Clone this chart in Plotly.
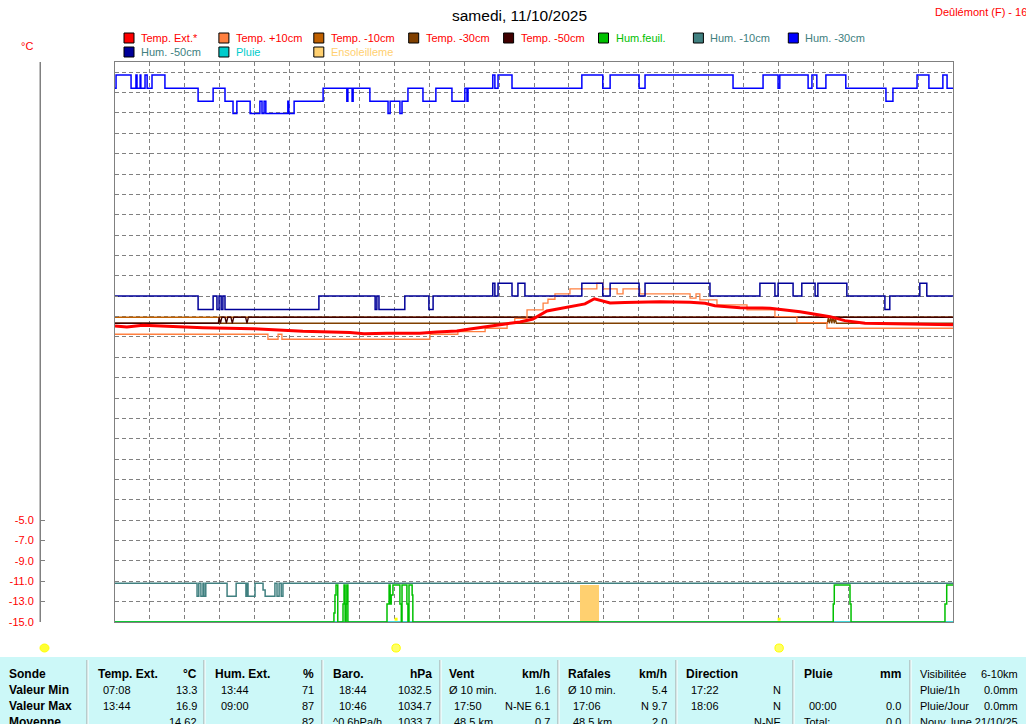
import plotly.graph_objects as go

# ---------------- data ----------------
# time in hours (0 - 24)
temp_ext_t = [0, 0.34, 0.80, 1.66, 2.52, 3.95, 5.38, 6.73, 7.13, 7.79, 8.73, 9.22, 9.79, 10.17,
              10.54, 11.23, 11.60, 11.97, 12.37, 12.74, 13.03, 13.46, 13.73, 14.18, 14.60, 15.03,
              15.61, 16.47, 16.90, 17.18, 17.90, 18.76, 19.62, 20.48, 20.90, 21.48, 22.48, 23.34, 24.0]
temp_ext_v = [14.08, 13.98, 14.15, 14.01, 13.91, 13.81, 13.56, 13.44, 13.32, 13.36, 13.36, 13.49,
              13.59, 13.78, 13.98, 14.30, 14.47, 14.76, 15.55, 15.80, 15.94, 16.24, 16.75, 16.34,
              16.37, 16.40, 16.46, 16.40, 16.31, 16.07, 15.87, 15.82, 15.48, 14.99, 14.60, 14.34,
              14.27, 14.24, 14.20]

temp_p10_t = [0, 4.38, 4.67, 4.78, 9.02, 9.82, 10.60, 11.23, 11.45, 11.80, 12.26, 12.40, 12.60,
              13.03, 13.80, 13.97, 14.38, 14.55, 15.03, 16.47, 16.64, 16.75, 17.24, 18.10, 18.90,
              19.53, 20.39, 24.0]
temp_p10_v = [13.26, 12.77, 13.26, 12.77, 13.26, 13.52, 13.85, 14.34, 14.83, 15.65, 16.31, 16.70,
              17.22, 17.71, 18.27, 17.71, 17.22, 17.71, 17.22, 16.80, 17.22, 16.63, 16.14, 15.65,
              14.99, 14.41, 13.85, 13.85]

temp_m10_t = [0, 24.0]
temp_m10_v = [14.93, 14.93]

temp_m30_t = [0, 20.40, 20.43, 20.46, 20.50, 20.53, 20.56, 20.60, 20.63, 20.66, 24.0]
temp_m30_v = [14.34, 14.34, 14.93, 14.34, 14.93, 14.34, 14.93, 14.34, 14.93, 14.34, 14.34]

temp_m50_t = [0, 2.96, 2.98, 3.02, 3.06, 3.15, 3.19, 3.23, 3.32, 3.36, 3.40, 3.74, 3.78, 3.82, 24.0]
temp_m50_v = [14.34, 14.34, 14.93, 14.34, 14.93, 14.93, 14.34, 14.93, 14.93, 14.34, 14.93, 14.93,
              14.34, 14.93, 14.93]

# humidity (%)
hum_m30_t = [0, 0.03, 0.46, 0.60, 0.63, 0.72, 0.74, 0.86, 0.92, 1.06, 1.43, 2.38, 2.81, 3.15,
             3.38, 3.49, 3.87, 4.15, 4.21, 4.27, 4.32, 4.95, 4.98, 5.13, 5.96, 6.64, 6.67, 6.79,
             6.82, 7.30, 7.82, 7.88, 8.16, 8.22, 8.39, 8.82, 9.19, 9.65, 10.02, 10.08, 10.11,
             10.82, 10.88, 10.97, 11.37, 13.37, 13.97, 14.18, 15.01, 15.18, 17.70, 18.56, 18.99,
             19.04, 19.85, 19.96, 20.10, 20.36, 20.93, 22.08, 22.28, 22.97, 23.31, 23.71, 23.83, 24.0]
hum_m30_v = [95.3, 97.7, 95.3, 97.7, 95.3, 97.7, 95.3, 97.7, 95.3, 97.7, 95.3, 93.0, 95.3, 93.0,
             90.8, 93.0, 90.8, 93.0, 90.8, 93.0, 90.8, 93.0, 90.8, 93.0, 95.3, 93.0, 95.3, 93.0,
             95.3, 93.0, 90.8, 93.0, 90.8, 93.0, 95.3, 93.0, 95.3, 93.0, 95.3, 93.0, 95.3,
             97.7, 95.3, 97.7, 95.3, 97.7, 95.3, 97.7, 95.3, 97.7, 95.3, 97.7, 95.3,
             97.7, 95.3, 97.7, 95.3, 97.7, 95.3, 93.0, 95.3, 97.7, 95.3, 97.7, 95.3, 95.3]

hum_m50_t = [0, 2.38, 2.81, 2.92, 2.98, 3.04, 3.09, 3.15, 5.84, 7.45, 7.50, 7.56, 8.30, 8.99,
             9.11, 10.82, 10.88, 10.97, 11.37, 11.54, 11.74, 13.37, 13.97, 14.18, 15.01, 15.18,
             17.04, 18.47, 18.90, 18.99, 19.42, 19.67, 20.05, 20.13, 20.96, 22.05, 22.19, 23.05,
             23.25, 24.0]
hum_m50_v = [58.2, 55.8, 58.2, 55.8, 58.2, 55.8, 58.2, 55.8, 58.2, 55.8, 58.2, 55.8, 58.2, 55.8,
             58.2, 60.5, 58.2, 60.5, 58.2, 60.5, 58.2, 60.5, 58.2, 60.5, 58.2, 60.5,
             58.2, 60.5, 58.2, 60.5, 58.2, 60.5, 58.2, 60.5, 58.2, 55.8, 58.2, 60.5,
             58.2, 58.2]

hum_m10_t = [0, 2.35, 2.40, 2.46, 2.52, 2.55, 2.60, 3.21, 3.47, 3.75, 3.78, 3.81, 4.01, 4.24,
             4.30, 4.58, 4.64, 4.70, 4.76, 4.81, 24.0]
hum_m10_v = [6.9, 4.6, 6.9, 4.6, 6.9, 4.6, 6.9, 4.6, 6.9, 4.6, 6.9, 4.6, 6.9, 5.7,
             4.6, 6.9, 4.6, 6.9, 4.6, 6.9, 6.9]

hum_feuil_t = [0, 6.27, 6.30, 6.33, 6.38, 6.53, 6.56, 6.59, 6.62, 6.64, 6.67, 7.79, 7.85, 7.88,
               7.91, 7.96, 8.16, 8.20, 8.22, 8.36, 8.39, 8.42, 8.51, 8.53, 20.57, 20.60, 21.05,
               21.08, 23.77, 23.82, 24.0]
hum_feuil_v = [0, 1.6, 4.8, 6.6, 0, 3.2, 6.6, 0, 3.2, 6.6, 0, 3.2, 6.6, 3.2,
               4.8, 6.6, 3.2, 0, 6.6, 3.2, 0, 6.6, 4.8, 0, 3.2, 6.6, 3.2,
               0, 3.2, 6.6, 6.6]

pluie_t = [0, 24.0]
pluie_v = [0.0, 0.0]

soleil_t = [13.59]
soleil_v = [6.6]
soleil_w = [0.54]

sun_events = [8.05, 19.02]   # sunrise / sunset

y_ticks = [-5, -7, -9, -11, -13, -15]
y_ticktext = ["-5.0", "-7.0", "-9.0", "-11.0", "-13.0", "-15.0"]

legend_names = ["Temp. Ext.*", "Temp. +10cm", "Temp. -10cm", "Temp. -30cm", "Temp. -50cm",
                "Hum.feuil.", "Hum. -10cm", "Hum. -30cm", "Hum. -50cm", "Pluie", "Ensoleilleme"]
legend_colors = ["#FF0000", "#FF8040", "#C06000", "#804000", "#400000", "#00C000", "#408080",
                 "#0000FF", "#000099", "#00CCCC", "#FFD070"]
legend_text_colors = ["#FF0000", "#FF0000", "#FF0000", "#FF0000", "#FF0000", "#00C000", "#408080",
                      "#408080", "#408080", "#00CCCC", "#FFD070"]

row_labels = ["Sonde", "Valeur Min", "Valeur Max", "Moyenne"]
table_cols = [
    ("Temp. Ext.", "°C", [("07:08", "13.3"), ("13:44", "16.9"), ("", "14.62")], 96, 199, 101),
    ("Hum. Ext.", "%", [("13:44", "71"), ("09:00", "87"), ("", "82")], 213, 316, 219),
    ("Baro.", "hPa", [("18:44", "1032.5"), ("10:46", "1034.7"), ("^0.6hPa/h", "1033.7")], 331, 434, 337),
    ("Vent", "km/h", [("Ø 10 min.", "1.6"), ("17:50", "N-NE 6.1"), ("48.5 km", "0.7")], 447, 552, 452),
    ("Rafales", "km/h", [("Ø 10 min.", "5.4"), ("17:06", "N 9.7"), ("48.5 km", "2.0")], 566, 669, 571),
    ("Direction", "", [("17:22", "N"), ("18:06", "N"), ("", "N-NE")], 684, 783, 689),
    ("Pluie", "mm", [("", ""), ("00:00", "0.0"), ("Total:", "0.0")], 802, 903, 807),
]
side_info = [("Visibilitée", "6-10km"), ("Pluie/1h", "0.0mm"), ("Pluie/Jour", "0.0mm"),
             ("Nouv. lune 21/10/25", "")]
separators_x = [87, 204, 322, 440, 558, 676, 793, 910]

# ---------------- geometry (window pixels) ----------------
W, H = 1026, 724
PLOT_L, PLOT_R, PLOT_T, PLOT_B = 115, 953, 62, 622
AXIS_X = 40
ML = AXIS_X
MT = PLOT_T
MR = W - PLOT_R
MB = H - PLOT_B
PW = W - ML - MR
PH = H - MT - MB


def px(x):
    return (x - ML) / PW


def py(y):
    return (PLOT_B - y) / PH


FONT = "Liberation Sans, Arial, sans-serif"

fig = go.Figure()

fig.add_trace(go.Bar(x=soleil_t, y=soleil_v, width=soleil_w, yaxis="y3",
                     marker=dict(color="#FFD070", line=dict(width=0)), name="Ensoleilleme"))
fig.add_trace(go.Scatter(x=pluie_t, y=pluie_v, yaxis="y3", mode="lines", cliponaxis=False,
                         line=dict(color="#00CCCC", width=1.5), name="Pluie"))
fig.add_trace(go.Scatter(x=hum_feuil_t, y=hum_feuil_v, yaxis="y3", mode="lines",
                         line=dict(color="#00C000", width=1.5, shape="hv"), name="Hum.feuil."))
fig.add_trace(go.Scatter(x=hum_m10_t, y=hum_m10_v, yaxis="y3", mode="lines",
                         line=dict(color="#408080", width=1.5, shape="hv"), name="Hum. -10cm"))
fig.add_trace(go.Scatter(x=hum_m50_t, y=hum_m50_v, yaxis="y3", mode="lines",
                         line=dict(color="#000099", width=1.5, shape="hv"), name="Hum. -50cm"))
fig.add_trace(go.Scatter(x=hum_m30_t, y=hum_m30_v, yaxis="y3", mode="lines",
                         line=dict(color="#0000FF", width=1.5, shape="hv"), name="Hum. -30cm"))
fig.add_trace(go.Scatter(x=temp_m10_t, y=temp_m10_v, mode="lines",
                         line=dict(color="#C06000", width=1.3), name="Temp. -10cm"))
fig.add_trace(go.Scatter(x=temp_m30_t, y=temp_m30_v, mode="lines",
                         line=dict(color="#804000", width=1.3), name="Temp. -30cm"))
fig.add_trace(go.Scatter(x=temp_m50_t, y=temp_m50_v, mode="lines",
                         line=dict(color="#400000", width=1.3), name="Temp. -50cm"))
fig.add_trace(go.Scatter(x=temp_p10_t, y=temp_p10_v, mode="lines",
                         line=dict(color="#FF8040", width=1.3, shape="hv"), name="Temp. +10cm"))
fig.add_trace(go.Scatter(x=temp_ext_t, y=temp_ext_v, mode="lines",
                         line=dict(color="#FF0000", width=3), name="Temp. Ext.*"))
fig.add_trace(go.Scatter(x=sun_events, y=[0.5] * len(sun_events), yaxis="y3", mode="markers",
                         marker=dict(symbol="square", size=3, color="#FFFF00", line=dict(width=0)),
                         name="sun"))
fig.add_trace(go.Scatter(x=[None], y=[None], yaxis="y2", mode="lines", name="axis"))

grid = dict(showgrid=True, gridcolor="#808080", gridwidth=1, griddash="4px,3px")

fig.update_layout(
    width=W, height=H,
    margin=dict(l=ML, r=MR, t=MT, b=MB, pad=0, autoexpand=False),
    paper_bgcolor="white", plot_bgcolor="white",
    showlegend=False,
    font=dict(family=FONT, size=11, color="black"),
    xaxis=dict(domain=[px(PLOT_L), 1], range=[0, 24], dtick=1, tick0=0, showticklabels=False,
               ticks="", showline=True, linecolor="#808080", linewidth=1, mirror=True,
               zeroline=False, automargin=False, **grid),
    yaxis=dict(anchor="x", range=[-15, 40], dtick=2, tick0=-15, showticklabels=False,
               ticks="inside", ticklen=3, tickcolor="#808080", showline=True, linecolor="#808080",
               linewidth=1, mirror=True, zeroline=False, automargin=False, **grid),
    yaxis2=dict(overlaying="y", anchor="free", position=0, side="left", range=[-15, 40],
                tickmode="array", tickvals=y_ticks, ticktext=y_ticktext,
                tickfont=dict(color="#FF0000", size=11, family=FONT), ticks="inside", ticklen=4,
                ticklabelstandoff=4, automargin=False,
                tickcolor="#808080", showline=True, linecolor="#808080", linewidth=1,
                showgrid=False, zeroline=False),
    yaxis3=dict(overlaying="y", anchor="x", range=[0, 100], visible=False, automargin=False),
    bargap=0,
)

shapes = []
ann = []


def txt(x, y, s, anchor="left", color="black", size=11, bold=False):
    ann.append(dict(x=px(x), y=py(y), xref="paper", yref="paper",
                    text=("<b>%s</b>" % s) if bold else s,
                    showarrow=False, xanchor=anchor, yanchor="middle",
                    font=dict(family=FONT, size=size, color=color)))


txt(519, 15, "samedi, 11/10/2025", anchor="center", size=15.5)
txt(933, 12, "Deûlémont (F) - 16m", color="#FF0000", size=11)
txt(19, 46, "°C", color="#FF0000", size=11)

# left scale line
shapes.append(dict(type="line", xref="paper", yref="paper", x0=px(AXIS_X), x1=px(AXIS_X),
                   y0=0, y1=1, line=dict(color="#808080", width=1)))

# legend
for i, (nm, col, tcol) in enumerate(zip(legend_names, legend_colors, legend_text_colors)):
    c, r = i % 8, i // 8
    x0 = 124 + c * 94.9
    yc = 38 + r * 14
    shapes.append(dict(type="rect", xref="paper", yref="paper", x0=px(x0), x1=px(x0 + 10),
                       y0=py(yc + 5), y1=py(yc - 5), fillcolor=col, line=dict(color="black", width=1)))
    txt(x0 + 15, yc, nm, color=tcol, size=11)

# sun symbols under the chart (left one is the day indicator)
shapes.append(dict(type="circle", xref="paper", yref="paper", x0=px(40), x1=px(49), y0=py(652),
                   y1=py(644), fillcolor="#FFFF33", line=dict(color="#FFFF00", width=1)))
for se in sun_events:
    shapes.append(dict(type="circle", xref="x", yref="paper", x0=se - 0.12, x1=se + 0.12,
                       y0=py(652), y1=py(644), fillcolor="#FFFF66", line=dict(color="#FFFF00", width=1)))

# bottom table
shapes.append(dict(type="rect", xref="paper", yref="paper", x0=px(0), x1=px(1026), y0=py(724),
                   y1=py(657), fillcolor="#CCF8F8", line=dict(width=0), layer="below"))
for sx in separators_x:
    shapes.append(dict(type="line", xref="paper", yref="paper", x0=px(sx), x1=px(sx), y0=py(724),
                       y1=py(660), line=dict(color="#A0A0A0", width=1)))
    shapes.append(dict(type="line", xref="paper", yref="paper", x0=px(sx + 1), x1=px(sx + 1),
                       y0=py(724), y1=py(660), line=dict(color="#FFFFFF", width=1)))

row_y = [674, 690, 706, 722]
for j, lbl in enumerate(row_labels):
    txt(7, row_y[j], lbl, bold=True, size=12)
for head_l, head_r, vals, xl, xr, xo in table_cols:
    txt(xl, row_y[0], head_l, bold=True, size=12)
    if head_r:
        txt(xr, row_y[0], head_r, anchor="right", bold=True, size=12)
    for k, (lv, rv) in enumerate(vals):
        if lv:
            x_left = xo if lv[0].isdigit() else xl
            txt(x_left, row_y[k + 1], lv)
        if rv:
            txt(xr, row_y[k + 1], rv, anchor="right")
for k, (lv, rv) in enumerate(side_info):
    txt(918, row_y[k], lv)
    if rv:
        txt(1020, row_y[k], rv, anchor="right")

fig.update_layout(shapes=shapes, annotations=ann)

fig.write_html("out.html", config={"displayModeBar": False},
               post_script="document.body.style.margin='0';document.body.style.overflow='hidden';")
